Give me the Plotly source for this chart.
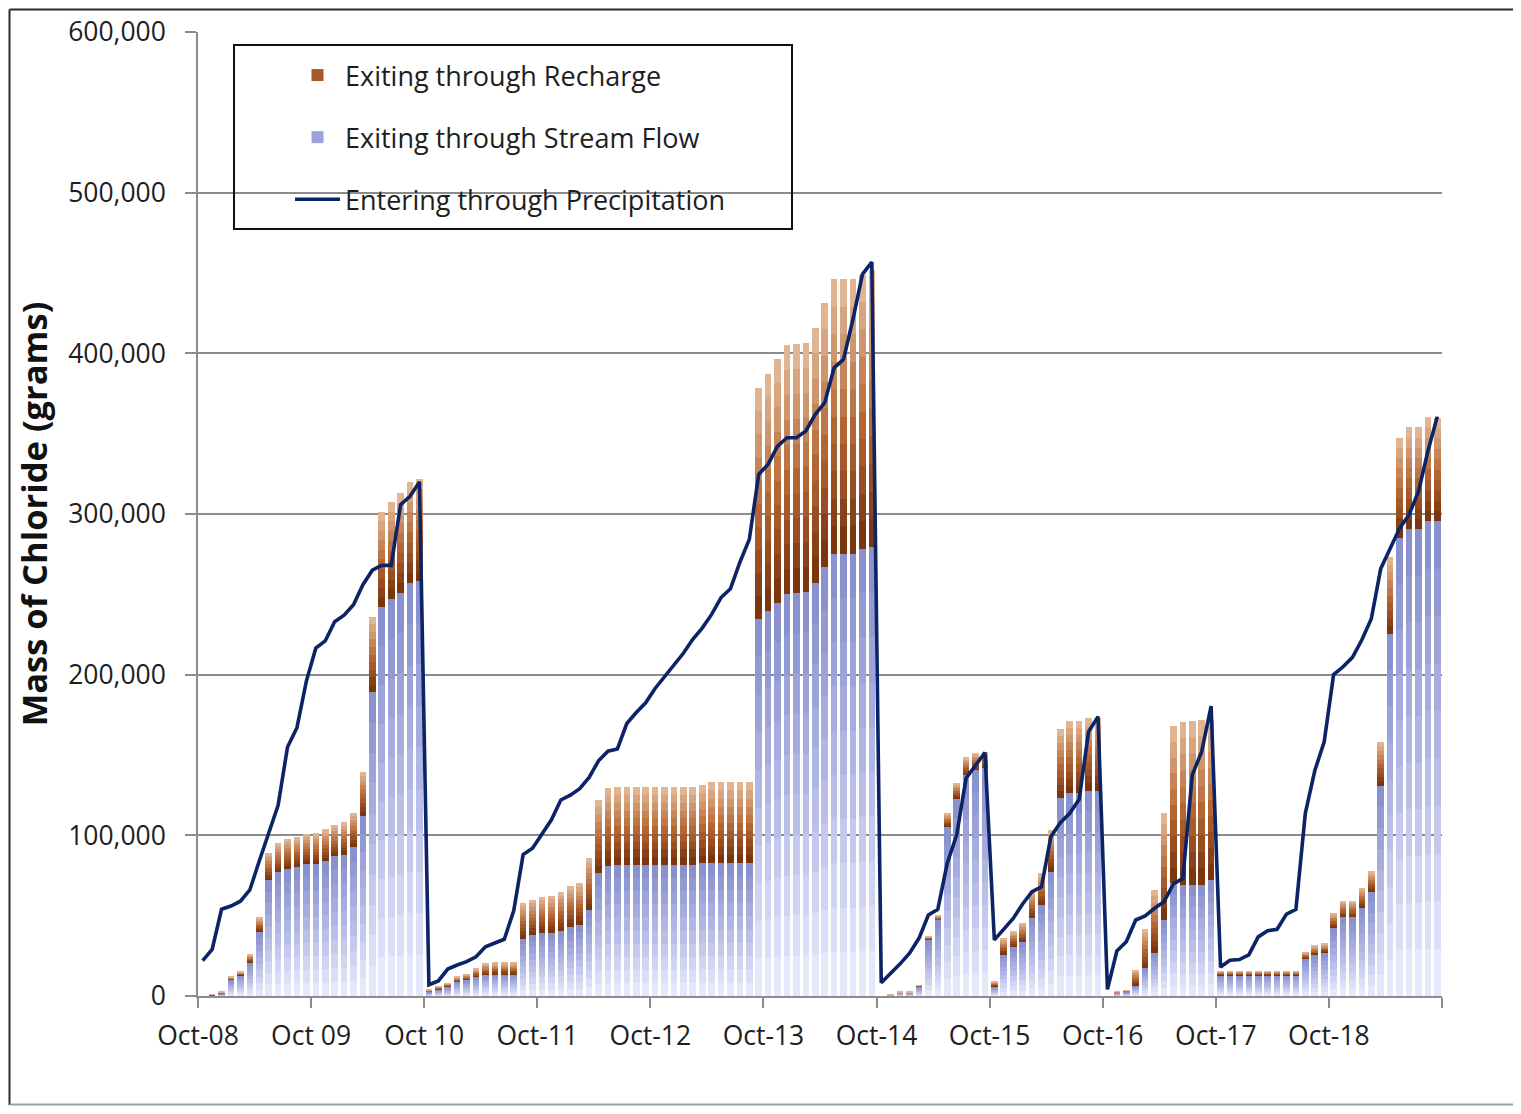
import plotly.graph_objects as go

# Month index 0 = Oct-2008 ... 131 = Sep-2019
months = list(range(132))

# Values in thousands of grams
total_exit = [
    0, 1, 2.5, 12, 15, 26, 49, 89, 95, 98, 99, 101,
    101.5, 103.7, 106.5, 108, 114, 139.6, 236, 301.5, 307.5, 313, 320, 322,
    4, 6, 8, 12, 13.5, 17, 20, 20.7, 20.7, 20.7, 58, 59.8,
    61.8, 62.4, 65, 68.6, 70.2, 86, 122, 129.6, 130, 130, 130, 130,
    130, 130, 130, 130, 130, 131.3, 133, 133, 133, 133, 133, 378.6,
    387.3, 396.7, 405.2, 405.8, 406.6, 416, 431.5, 446, 446, 446, 449, 452,
    0, 1.2, 2.5, 2.5, 6.8, 36.9, 50.4, 113.7, 132.4, 148.5, 151.5, 152,
    8.9, 35.9, 40.5, 45.6, 64.9, 76.3, 103.3, 166, 171.4, 171.4, 172.8, 172.8,
    0, 2.7, 3.7, 16.2, 41.5, 66, 113.7, 168, 170.7, 171.4, 171.8, 172,
    15.5, 15.5, 15.5, 15.5, 15.5, 15.5, 15.5, 15.5, 15.5, 27.3, 31.3, 32.5,
    51.6, 59.3, 59.3, 67.2, 77.5, 158.2, 273.2, 347.4, 353.9, 353.9, 360.1, 360,
]
stream_flow = [
    0, 0.5, 1.5, 10, 13, 21, 40, 72, 77, 79, 80, 82,
    82, 84, 87, 88, 93, 112, 189, 242, 247, 251, 257, 258,
    2.5, 4, 6, 9, 10, 12, 13.5, 13.5, 13.5, 13.5, 35.7, 37.8,
    39.2, 39.2, 40.5, 43, 44.4, 53.8, 76.4, 81, 81.5, 81.5, 81.5, 81.5,
    81.5, 81.5, 81.5, 81.5, 81.5, 82.5, 82.5, 82.5, 82.5, 82.5, 82.5, 234.4,
    239.6, 244.8, 250, 251, 251.5, 257.3, 267.2, 275.3, 275.3, 275.3, 278.4, 279.5,
    0, 1, 2, 2, 6, 35.3, 47.3, 105.4, 123, 137.6, 140.7, 142,
    6.2, 26.1, 30.7, 33.8, 48.3, 56.6, 77.4, 123, 126.1, 126.1, 127.8, 127.8,
    0, 2, 2.5, 6.8, 17.2, 26.6, 47.3, 70.1, 69.1, 69.1, 69.1, 72.2,
    13, 13, 13, 13, 13, 13, 13, 13, 13, 23.4, 25.7, 27.2,
    42.5, 49.2, 49.2, 55.2, 64.8, 130.7, 225.3, 285.1, 290.6, 290.6, 295.4, 295.4,
]
precipitation = [
    22, 29, 54, 56, 59, 66, 84, 101.5, 118.7, 155, 167, 196,
    216.5, 221, 233, 237, 243.5, 256, 265, 268, 268, 305.8, 311, 320,
    7, 9.4, 16.8, 19.3, 21.4, 24.4, 30.6, 33, 35.3, 53, 88, 92,
    100.4, 109.7, 122, 125, 129, 136, 146.4, 152.4, 153.8, 169.6, 176.4, 182.5,
    191.4, 199, 205.7, 213.3, 222, 229, 237.5, 248, 253.5, 270, 284.2, 324.7,
    331, 342.3, 347.5, 347.5, 351.7, 362, 369.3, 391, 396.3, 421.2, 449.2, 456.8,
    8.3, 14, 20, 26.6, 35.9, 50.4, 53.9, 82.6, 100.2, 135.5, 143.8, 151.5,
    34.9, 41.5, 48.3, 57.3, 64.9, 68, 99.2, 107.9, 113.7, 122.4, 164.5, 173.9,
    4.1, 28, 33.8, 47.3, 49.8, 54.6, 58.7, 69.7, 73.2, 137.6, 152.1, 180.5,
    18, 22.2, 22.7, 25.6, 36.8, 40.6, 41.5, 51, 54, 113.9, 140.2, 158.2,
    200.1, 204.9, 210.8, 221.7, 234.8, 266, 278, 291.1, 299.5, 313.9, 339, 360.6,
]

tick_labels = ["Oct-08", "Oct 09", "Oct 10", "Oct-11", "Oct-12", "Oct-13",
               "Oct-14", "Oct-15", "Oct-16", "Oct-17", "Oct-18", ""]

names = ["Exiting through Recharge", "Exiting through Stream Flow",
         "Entering through Precipitation"]

scale = 1000
stream = [v * scale for v in stream_flow]
recharge = [(t - s) * scale for t, s in zip(total_exit, stream_flow)]
precip = [v * scale for v in precipitation]


def lerp(stops, t):
    for i in range(len(stops) - 1):
        t0, c0 = stops[i]
        t1, c1 = stops[i + 1]
        if t <= t1:
            f = (t - t0) / (t1 - t0) if t1 > t0 else 0
            c = [round(c0[j] + (c1[j] - c0[j]) * f) for j in range(3)]
            return "rgb(%d,%d,%d)" % tuple(c)
    c = stops[-1][1]
    return "rgb(%d,%d,%d)" % tuple(c)


blue_stops = [(0, (234, 237, 252)), (0.5, (180, 186, 231)), (1, (132, 140, 204))]
brown_stops = [(0, (116, 48, 10)), (0.45, (180, 102, 50)), (1, (230, 188, 156))]

N = 10
fig = go.Figure()
for i in range(N):
    t = (i + 0.5) / N
    fig.add_trace(go.Bar(
        x=months, y=[v / N for v in stream], name=names[1],
        marker=dict(color=lerp(blue_stops, t), line=dict(width=0)),
        legendgroup="stream", showlegend=(i == 7), legendrank=2,
        hoverinfo="skip" if i else None,
    ))
for i in range(N):
    t = (i + 0.5) / N
    fig.add_trace(go.Bar(
        x=months, y=[v / N for v in recharge], name=names[0],
        marker=dict(color=lerp(brown_stops, t), line=dict(width=0)),
        legendgroup="recharge", showlegend=(i == 3), legendrank=1,
        hoverinfo="skip" if i else None,
    ))
fig.add_trace(go.Scatter(
    x=months, y=precip, name=names[2], mode="lines",
    line=dict(color="#0c2466", width=3.6),
    legendgroup="precip", legendrank=3,
))

grid = "#8c8c8c"
OFF = 8  # page body margin
W, H = 1505, 1098
L = 198 - OFF
T = 32 - OFF
R = W - (1442 - OFF)
B = H - (996 - OFF)
pw, ph = W - L - R, H - T - B


def px_x(p):
    return (p - OFF - L) / pw


def px_y(p):
    return (H - B - (p - OFF)) / ph


font_family = "Open Sans"

fig.update_layout(
    width=W, height=H,
    margin=dict(l=L, r=R, t=T, b=B, autoexpand=False),
    paper_bgcolor="white", plot_bgcolor="white",
    barmode="stack", bargap=0.3,
    font=dict(family=font_family, size=27, color="#1e1e1e"),
    legend=dict(
        x=px_x(290), y=px_y(51), xanchor="left", yanchor="top",
        bgcolor="rgba(0,0,0,0)", borderwidth=0,
        font=dict(family=font_family, size=27, color="#1e1e1e"),
        traceorder="grouped", tracegroupgap=24, itemwidth=45,
    ),
    xaxis=dict(
        range=[-0.5, 131.5],
        tickmode="array",
        tickvals=[-0.5 + 12 * j for j in range(len(tick_labels))],
        ticktext=tick_labels,
        ticks="outside", ticklen=10, tickwidth=1.5, tickcolor=grid,
        showline=True, linecolor=grid, linewidth=1.5,
        showgrid=False, zeroline=False,
        ticklabelstandoff=5,
        tickfont=dict(family=font_family, size=26.5, color="#1e1e1e"),
    ),
    yaxis=dict(
        range=[0, 600000], dtick=100000, tickformat=",",
        ticks="outside", ticklen=11, tickwidth=1.5, tickcolor=grid,
        showline=True, linecolor=grid, linewidth=1.5,
        showgrid=True, gridcolor=grid, gridwidth=1.5,
        zeroline=False,
        ticklabelstandoff=14,
        tickfont=dict(family=font_family, size=26.5, color="#1e1e1e"),
        title=dict(text="Mass of Chloride (grams)", standoff=10,
                   font=dict(family=font_family, size=34.5, color="#111111",
                             weight="bold")),
    ),
    shapes=[
        dict(type="rect", xref="paper", yref="paper",
             x0=px_x(234), x1=px_x(792), y0=px_y(229), y1=px_y(45),
             line=dict(color="#111111", width=2), fillcolor="rgba(0,0,0,0)",
             layer="above"),
        dict(type="line", xref="paper", yref="paper",
             x0=px_x(9.5), x1=px_x(9.5), y0=px_y(1105), y1=px_y(9.5),
             line=dict(color="#2a2a2a", width=2)),
        dict(type="line", xref="paper", yref="paper",
             x0=px_x(9.5), x1=px_x(1513), y0=px_y(9.5), y1=px_y(9.5),
             line=dict(color="#2a2a2a", width=2)),
        dict(type="line", xref="paper", yref="paper",
             x0=px_x(9.5), x1=px_x(1513), y0=px_y(1104.5), y1=px_y(1104.5),
             line=dict(color="#a0a0a0", width=2)),
    ],
)

fig.write_html("out.html")
